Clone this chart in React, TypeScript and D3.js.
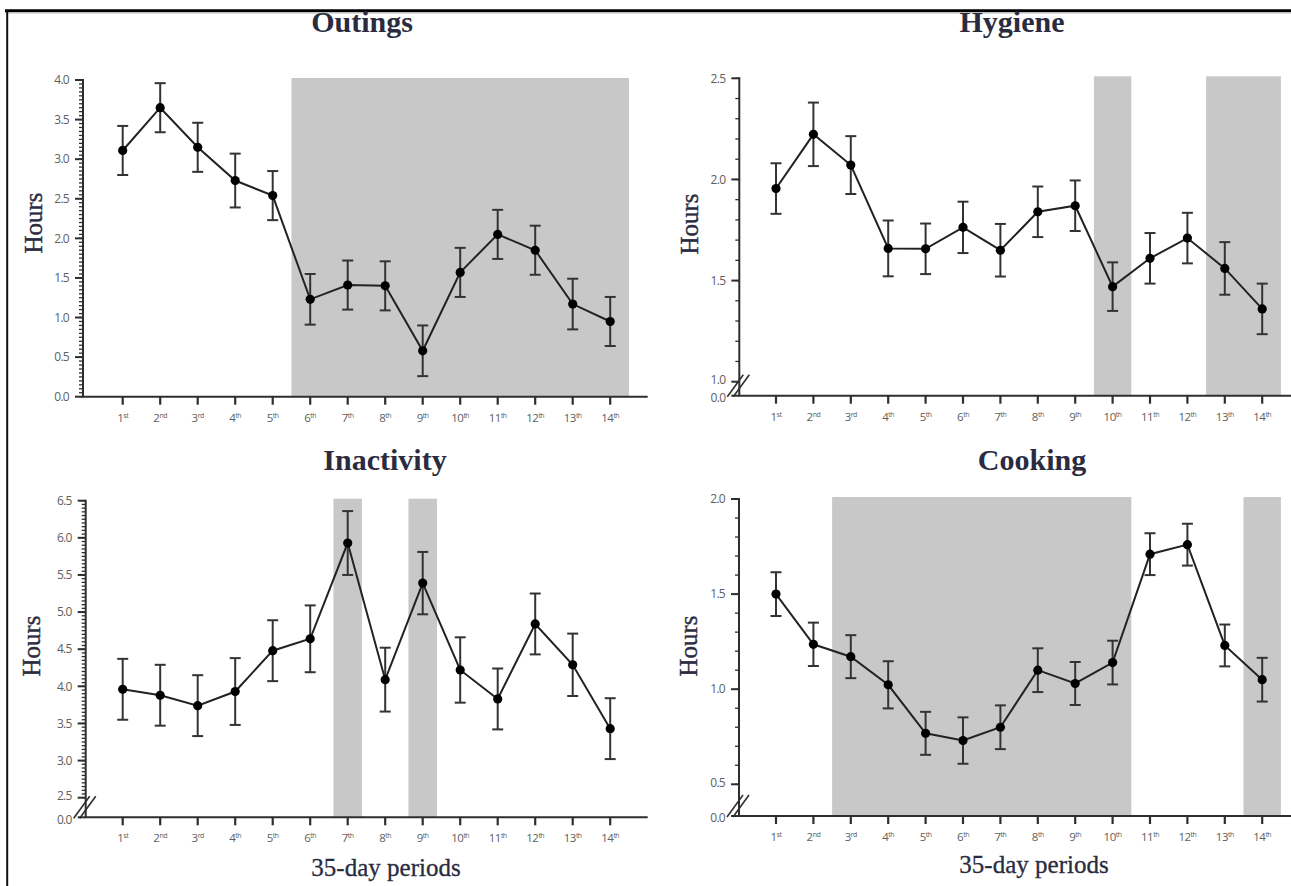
import * as d3 from "d3";

const periods = ["1st", "2nd", "3rd", "4th", "5th", "6th", "7th", "8th", "9th", "10th", "11th", "12th", "13th", "14th"];

const outingsMean = [3.11, 3.65, 3.15, 2.73, 2.54, 1.23, 1.41, 1.4, 0.58, 1.57, 2.05, 1.85, 1.17, 0.95];
const outingsErr = [0.31, 0.31, 0.31, 0.34, 0.31, 0.32, 0.31, 0.31, 0.32, 0.31, 0.31, 0.31, 0.32, 0.31];
const outingsShade = [[5.5, 14.5]];
const outingsTicks = [0, 0.5, 1, 1.5, 2, 2.5, 3, 3.5, 4];

const hygieneMean = [1.955, 2.223, 2.071, 1.659, 1.657, 1.763, 1.65, 1.84, 1.87, 1.47, 1.61, 1.71, 1.56, 1.36];
const hygieneErr = [0.125, 0.157, 0.143, 0.138, 0.125, 0.127, 0.13, 0.125, 0.125, 0.12, 0.125, 0.125, 0.13, 0.125];
const hygieneShade = [[9.5, 10.5], [12.5, 14.5]];
const hygieneTicks = [1, 1.5, 2, 2.5];

const inactivityMean = [3.96, 3.88, 3.74, 3.93, 4.48, 4.64, 5.93, 4.09, 5.39, 4.22, 3.83, 4.84, 4.29, 3.43];
const inactivityErr = [0.41, 0.41, 0.41, 0.45, 0.41, 0.45, 0.43, 0.43, 0.42, 0.44, 0.41, 0.41, 0.42, 0.41];
const inactivityShade = [[6.62, 7.38], [8.62, 9.38]];
const inactivityTicks = [2.5, 3, 3.5, 4, 4.5, 5, 5.5, 6, 6.5];

const cookingMean = [1.5, 1.236, 1.171, 1.023, 0.768, 0.73, 0.8, 1.1, 1.03, 1.14, 1.71, 1.76, 1.23, 1.05];
const cookingErr = [0.115, 0.114, 0.113, 0.124, 0.113, 0.122, 0.115, 0.115, 0.113, 0.115, 0.11, 0.11, 0.11, 0.115];
const cookingShade = [[2.5, 10.5], [13.5, 14.5]];
const cookingTicks = [0.5, 1, 1.5, 2];

const INK = "#2b2b40";
const TICK_GREY = "#606060";
const AXIS = "#2e2e2e";

type PanelCfg = {
  title: string;
  mean: number[];
  err: number[];
  shade: number[][];
  ticks: number[];
  minorStep: number;
  axisX: number;
  x0: number;
  step: number;
  yTop: number;
  yBottom: number;
  xAxisY: number;
  broken: boolean;
  titleX: number;
  titleY: number;
  hoursX: number;
  hoursY: number;
  xLabel?: { x: number; y: number };
};

const panels: PanelCfg[] = [
  {
    title: "Outings", mean: outingsMean, err: outingsErr, shade: outingsShade, ticks: outingsTicks,
    minorStep: 0.05, axisX: 83, x0: 85.2, step: 37.5, yTop: 80, yBottom: 396.7, xAxisY: 396.7,
    broken: false, titleX: 362, titleY: 32, hoursX: 33, hoursY: 223,
  },
  {
    title: "Hygiene", mean: hygieneMean, err: hygieneErr, shade: hygieneShade, ticks: hygieneTicks,
    minorStep: 0.1, axisX: 739.3, x0: 738.6, step: 37.4, yTop: 78.3, yBottom: 381.7, xAxisY: 395.7,
    broken: true, titleX: 1012, titleY: 32, hoursX: 689, hoursY: 224,
  },
  {
    title: "Inactivity", mean: inactivityMean, err: inactivityErr, shade: inactivityShade, ticks: inactivityTicks,
    minorStep: 0.05, axisX: 85.7, x0: 85.2, step: 37.5, yTop: 500.7, yBottom: 797.7, xAxisY: 817.3,
    broken: true, titleX: 385, titleY: 470, hoursX: 31, hoursY: 646,
    xLabel: { x: 386, y: 876 },
  },
  {
    title: "Cooking", mean: cookingMean, err: cookingErr, shade: cookingShade, ticks: cookingTicks,
    minorStep: 0.1, axisX: 739, x0: 738.6, step: 37.4, yTop: 499, yBottom: 784.3, xAxisY: 816,
    broken: true, titleX: 1032, titleY: 470, hoursX: 688, hoursY: 646,
    xLabel: { x: 1034, y: 873 },
  },
];

function Panel({ cfg }: { cfg: PanelCfg }) {
  const lo = cfg.ticks[0];
  const hi = cfg.ticks[cfg.ticks.length - 1];
  const x = d3.scaleLinear().domain([0, 15]).range([cfg.x0, cfg.x0 + 15 * cfg.step]);
  const y = d3.scaleLinear().domain([lo, hi]).range([cfg.yBottom, cfg.yTop]);
  const minor = d3.range(lo, hi + 1e-6, cfg.minorStep);
  const fmt = d3.format(".1f");
  const pts = cfg.mean.map((m, i) => [x(i + 1), y(m)] as [number, number]);
  const line = d3.line<[number, number]>()(pts) ?? "";
  const shadeTop = y(hi) - 2;
  const tickFont = "'Open Sans', sans-serif";

  return (
    <g>
      {cfg.shade.map(([a, b], i) => (
        <rect key={`s${i}`} x={x(a)} y={shadeTop} width={x(b) - x(a)} height={cfg.xAxisY - shadeTop} fill="#c8c8c8" />
      ))}

      {/* y axis */}
      <line x1={cfg.axisX} x2={cfg.axisX} y1={y(hi) - 1} y2={cfg.xAxisY} stroke={AXIS} strokeWidth={2} />
      {minor.map((t, i) => (
        <line key={`m${i}`} x1={cfg.axisX - 4} x2={cfg.axisX} y1={y(t)} y2={y(t)} stroke={AXIS} strokeWidth={1.3} />
      ))}
      {cfg.ticks.map((t, i) => (
        <g key={`t${t}`}>
          <line x1={cfg.axisX - 8} x2={cfg.axisX} y1={y(t)} y2={y(t)} stroke={AXIS} strokeWidth={2} />
          <text x={cfg.axisX - 14} y={y(t)} dy={cfg.broken && i === 0 ? "0.2em" : "0.35em"} textAnchor="end"
            fontFamily={tickFont} fontSize={12} letterSpacing={-0.7} fill={TICK_GREY}>{fmt(t)}</text>
        </g>
      ))}
      {cfg.broken && (
        <>
          <line x1={cfg.axisX - 8} x2={cfg.axisX} y1={cfg.xAxisY} y2={cfg.xAxisY} stroke={AXIS} strokeWidth={2} />
          <text x={cfg.axisX - 14} y={cfg.xAxisY + 2} dy="0.35em" textAnchor="end" fontFamily={tickFont}
            fontSize={12} letterSpacing={-0.7} fill={TICK_GREY}>{fmt(0)}</text>
          {[-3, 3].map((d) => (
            <line key={`b${d}`} x1={cfg.axisX - 9 + d} y1={cfg.xAxisY + 1} x2={cfg.axisX + 7 + d} y2={cfg.xAxisY - 21}
              stroke={AXIS} strokeWidth={1.6} />
          ))}
        </>
      )}

      {/* x axis */}
      <line x1={cfg.axisX - 1} x2={x(15)} y1={cfg.xAxisY} y2={cfg.xAxisY} stroke={AXIS} strokeWidth={2} />
      {periods.map((p, i) => {
        const m = p.match(/^(\d+)(\D+)$/);
        const num = m ? m[1] : p;
        const suf = m ? m[2] : "";
        return (
          <g key={p}>
            <line x1={x(i + 1)} x2={x(i + 1)} y1={cfg.xAxisY} y2={cfg.xAxisY + 8} stroke={AXIS} strokeWidth={2.2} />
            <text x={x(i + 1)} y={cfg.xAxisY + 25} textAnchor="middle" fontFamily={tickFont}
              fontSize={11.5} letterSpacing={-0.5} fill={TICK_GREY}>
              {num}
              <tspan fontSize={7} dy={-4}>{suf}</tspan>
            </text>
          </g>
        );
      })}

      {/* error bars */}
      {cfg.mean.map((m, i) => {
        const cx = x(i + 1);
        const top = y(m + cfg.err[i]);
        const bot = y(m - cfg.err[i]);
        return (
          <g key={`e${i}`} stroke="#333" strokeWidth={2}>
            <line x1={cx} x2={cx} y1={top} y2={bot} />
            <line x1={cx - 5.5} x2={cx + 5.5} y1={top} y2={top} />
            <line x1={cx - 5.5} x2={cx + 5.5} y1={bot} y2={bot} />
          </g>
        );
      })}
      <path d={line} fill="none" stroke="#222" strokeWidth={2} />
      {pts.map(([px, py], i) => (
        <circle key={`p${i}`} cx={px} cy={py} r={4.6} fill="#000" />
      ))}

      <text x={cfg.titleX} y={cfg.titleY} textAnchor="middle" fontFamily="'Liberation Serif', serif"
        fontWeight="bold" fontSize={30} fill={INK}>{cfg.title}</text>
      <text transform={`translate(${cfg.hoursX},${cfg.hoursY}) rotate(-90)`} textAnchor="middle" dy="0.35em"
        fontFamily="'Liberation Serif', serif" fontSize={25} stroke={INK} strokeWidth={0.4} fill={INK}>Hours</text>
      {cfg.xLabel && (
        <text x={cfg.xLabel.x} y={cfg.xLabel.y} textAnchor="middle" fontFamily="'Liberation Serif', serif"
          fontSize={25} stroke={INK} strokeWidth={0.3} fill={INK}>35-day periods</text>
      )}
    </g>
  );
}

export default function App() {
  return (
    <div style={{ position: "absolute", left: 0, top: 0 }}>
      <svg width={1291} height={886} style={{ display: "block", background: "#fff" }}>
        <line x1={5} x2={1291} y1={10.8} y2={10.8} stroke="#000" strokeWidth={3} />
        <line x1={5} x2={1291} y1={13} y2={13} stroke="#bbb" strokeWidth={1.2} />
        <line x1={7.2} x2={7.2} y1={10} y2={886} stroke="#111" strokeWidth={2} />
        {panels.map((p) => (
          <Panel key={p.title} cfg={p} />
        ))}
      </svg>
    </div>
  );
}
